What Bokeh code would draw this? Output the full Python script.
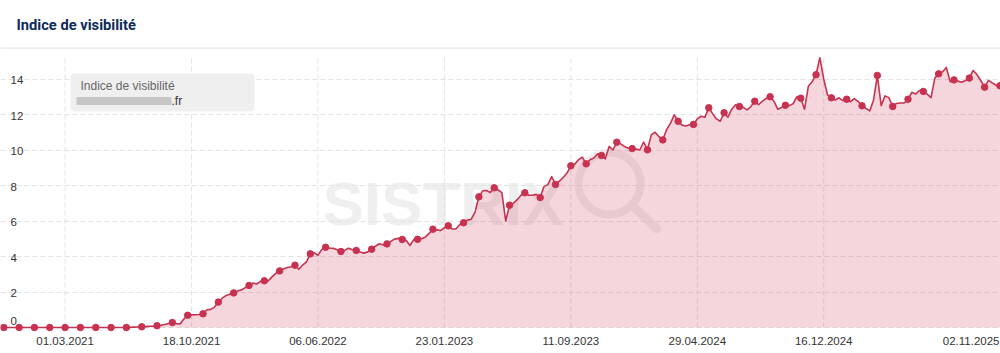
import pandas as pd
from bokeh.plotting import figure
from bokeh.models import Range1d, FixedTicker, Label, BoxAnnotation, ColumnDataSource
from bokeh.core.properties import value
from bokeh.embed import file_html
from bokeh.resources import INLINE

# ---------------- data ----------------
title_text = "Indice de visibilité"
series_name = "Indice de visibilité"
domain_suffix = ".fr"

first_week = "2020-11-09"          # weekly values, one marker every 4 weeks
marker_every = 4
visibility = [
    0, 0, 0, 0,   0, 0, 0, 0,   0, 0, 0, 0,   0, 0, 0, 0,
    0, 0, 0, 0,   0, 0, 0, 0,   0, 0, 0, 0,   0, 0, 0, 0,
    0, 0.01, 0.02, 0.03,   0.04, 0.05, 0.07, 0.08,   0.1, 0.13, 0.17, 0.22,
    0.28, 0.22, 0.2, 0.48,   0.69, 0.71, 0.72, 0.73,   0.77, 1.0, 1.02, 1.15,
    1.43, 1.65, 1.8, 1.88,   1.95, 2.05, 2.12, 2.24,   2.37, 2.5, 2.45, 2.6,
    2.63, 2.62, 2.85, 3.05,   3.19, 3.3, 3.38, 3.42,   3.51, 3.28, 3.52, 3.7,
    4.15, 4.22, 4.06, 4.4,   4.52, 4.48, 4.46, 4.38,   4.28, 4.35, 4.47, 4.38,
    4.34, 4.25, 4.19, 4.26,   4.41, 4.58, 4.72, 4.65,   4.71, 4.85, 4.98, 5.02,
    4.96, 4.92, 4.62, 4.95,   4.97, 5.0, 5.09, 5.3,   5.54, 5.5, 5.46, 5.62,
    5.73, 5.55, 5.55, 5.8,   5.9, 6.05, 6.1, 6.5,   7.36, 7.7, 7.72, 7.6,
    7.87, 7.75, 7.6, 6.0,   6.89, 7.0, 7.2, 7.45,   7.59, 7.45, 7.45, 7.5,
    7.32, 7.95, 8.05, 8.5,   8.06, 8.25, 8.45, 8.7,   9.11, 9.2, 9.45, 9.6,
    9.22, 9.45, 9.55, 9.78,   9.69, 9.5, 10.2, 10.0,   10.44, 10.35, 10.2, 10.1,
    10.08, 10.05, 10.0, 10.45,   10.01, 10.85, 11.0, 10.75,   10.57, 11.15, 11.5, 11.98,
    11.62, 11.4, 11.35, 11.42,   11.44, 11.75, 11.9, 11.85,   12.38, 12.05, 11.75, 11.62,
    12.1, 11.85, 12.3, 12.55,   12.45, 12.4, 12.26, 12.45,   12.75, 12.55, 12.75, 12.9,
    13.0, 12.75, 12.3, 12.4,   12.52, 12.5, 12.6, 13.0,   12.92, 12.3, 13.6, 13.85,
    14.24, 15.2, 14.0, 13.1,   12.94, 12.82, 12.94, 12.78,   12.86, 12.72, 12.9, 12.73,
    12.49, 12.35, 12.2, 12.8,   14.2, 12.5, 13.05, 12.95,   12.45, 12.62, 12.65, 12.65,
    12.86, 13.25, 13.15, 13.35,   13.3, 13.15, 12.95, 14.05,   14.29, 14.4, 14.65, 13.85,
    13.95, 13.88, 13.82, 13.92,   14.05, 14.48, 14.25, 13.9,   13.54, 13.92, 13.78, 13.65,
    13.62,
]

x_tick_dates = ["2021-03-01", "2021-10-18", "2022-06-06", "2023-01-23",
                "2023-09-11", "2024-04-29", "2024-12-16", "2025-11-02"]
x_tick_labels = ["01.03.2021", "18.10.2021", "06.06.2022", "23.01.2023",
                 "11.09.2023", "29.04.2024", "16.12.2024", "02.11.2025"]
y_ticks = [0, 2, 4, 6, 8, 10, 12, 14]
y_tick_labels = ["0", "2", "4", "6", "8", "10", "12", "14"]

# ---------------- layout / style ----------------
W, H = 1000, 353
ZERO_Y = 327          # canvas row of value 0
PLOT_TOP = 56         # canvas row where the plotting area starts
PX_PER_UNIT = 17.75
RED = "#c83250"
GRID = "#e3e3e3"
TICK_FONT = "Liberation Sans"

dates = pd.date_range(first_week, periods=len(visibility), freq="7D")
x_start = dates[0] - pd.Timedelta(days=6)
x_end = dates[-1] + pd.Timedelta(days=1)
y_start = -(H - ZERO_Y) / PX_PER_UNIT
y_end = y_start + H / PX_PER_UNIT


def sy(canvas_y):
    """canvas row (from top) -> screen units measured up from the bottom"""
    return H - canvas_y


def ms(d):
    return pd.Timestamp(d).value // 10**6


def px2x(px):
    return x_start + (x_end - x_start) * (px / W)


def py2y(py):
    return (ZERO_Y - py) / PX_PER_UNIT


p = figure(width=W, height=H, x_axis_type="datetime",
           x_range=Range1d(x_start, x_end), y_range=Range1d(y_start, y_end),
           output_backend="svg", toolbar_location=None,
           min_border=0, min_border_left=0, min_border_right=0,
           min_border_top=0, min_border_bottom=0)
p.outline_line_color = None
p.background_fill_color = "white"
p.border_fill_color = "white"
p.xaxis.visible = False
p.yaxis.visible = False
p.xgrid.visible = False

p.ygrid.ticker = FixedTicker(ticks=y_ticks)
p.ygrid.grid_line_color = GRID
p.ygrid.grid_line_dash = "5 3"
p.ygrid.grid_line_width = 1

# vertical grid lines at the date ticks (plot area only)
vg = [pd.Timestamp(d) for d in x_tick_dates[:-1]]
p.segment(x0=vg, y0=[0] * len(vg), x1=vg, y1=[py2y(PLOT_TOP)] * len(vg),
          line_color=GRID, line_dash="5 3", line_width=1, level="underlay")

# watermark (SISTRIX + magnifier), beneath everything
p.add_layout(Label(x=322, y=sy(203), x_units="screen", y_units="screen",
                   text="SISTRIX", text_font=TICK_FONT, text_font_size="62px",
                   text_font_style="bold", text_color="#efefef",
                   text_baseline="alphabetic", level="image"))
p.scatter(x=[px2x(609)], y=[py2y(183)], size=62, marker="circle",
          fill_color=None, line_color="#efefef", line_width=8, level="image")
p.segment(x0=[px2x(634)], y0=[py2y(207)], x1=[px2x(656)], y1=[py2y(228)],
          line_color="#efefef", line_width=9, line_cap="round", level="image")

# area, line, markers
src = ColumnDataSource(dict(x=dates, y=visibility))
p.varea(x="x", y1=0, y2="y", source=src, fill_color=RED, fill_alpha=0.2)
p.line(x="x", y="y", source=src, line_color=RED, line_width=1.6,
       line_join="round")
p.scatter(x=dates[::marker_every], y=visibility[::marker_every],
          size=6.5, marker="circle", fill_color=RED, line_color=RED)

# y tick labels inside the plot
ysrc = ColumnDataSource(dict(
    x=[x_start] * len(y_ticks), y=y_ticks, t=y_tick_labels,
    off=[-7 if v == 0 else 1 for v in y_ticks]))
p.text(x="x", y="y", text="t", source=ysrc, x_offset=10, y_offset="off",
       text_align="left", text_baseline="middle",
       text_font=value(TICK_FONT), text_font_size="11.5px", text_color="#333333")

# x tick labels below the plot
for i, (d, lab) in enumerate(zip(x_tick_dates, x_tick_labels)):
    last = i == len(x_tick_dates) - 1
    p.add_layout(Label(x=ms(x_end) if last else ms(d), y=sy(340),
                       x_units="data", y_units="screen", text=lab,
                       x_offset=-1 if last else 0,
                       text_align="right" if last else "center",
                       text_baseline="middle", text_font=TICK_FONT,
                       text_font_size="11.5px", text_color="#333333"))

# header
p.add_layout(Label(x=16, y=sy(24), x_units="screen", y_units="screen",
                   text=title_text, text_font="Roboto", text_font_size="14.7px",
                   text_font_style="bold", text_color="#0d2b5b",
                   text_baseline="middle"))
p.add_layout(BoxAnnotation(left=0, right=W, top=sy(47), bottom=sy(48.2),
                           left_units="screen", right_units="screen",
                           top_units="screen", bottom_units="screen",
                           fill_color="#e8e8e8", fill_alpha=1, line_color=None))

# legend box
p.add_layout(BoxAnnotation(left=70, right=254, top=sy(73), bottom=sy(111),
                           left_units="screen", right_units="screen",
                           top_units="screen", bottom_units="screen",
                           fill_color="#efefef", fill_alpha=1, line_color=None,
                           border_radius=4))
p.add_layout(Label(x=80, y=sy(85.5), x_units="screen", y_units="screen",
                   text=series_name, text_font=TICK_FONT, text_font_size="12px",
                   text_color="#666666", text_baseline="middle"))
p.add_layout(BoxAnnotation(left=76, right=171, top=sy(96.5), bottom=sy(104.5),
                           left_units="screen", right_units="screen",
                           top_units="screen", bottom_units="screen",
                           fill_color="#c6c6c6", fill_alpha=1, line_color=None))
p.add_layout(Label(x=171, y=sy(100.5), x_units="screen", y_units="screen",
                   text=domain_suffix, text_font=TICK_FONT, text_font_size="12px",
                   text_color="#333333", text_baseline="middle"))

open("out.html", "w").write(file_html(p, INLINE))
